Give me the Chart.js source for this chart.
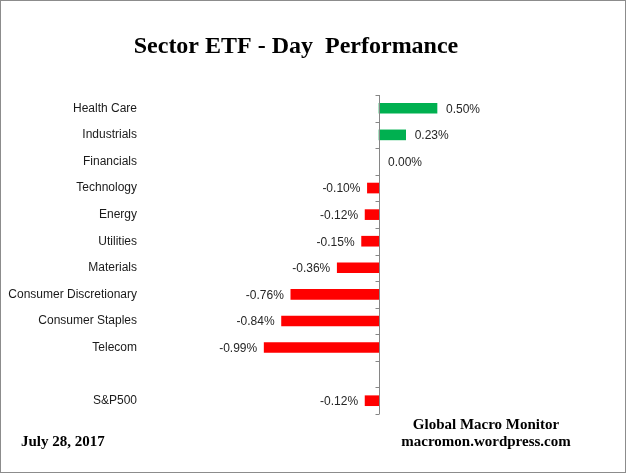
<!DOCTYPE html>
<html>
<head>
<meta charset="utf-8">
<script src="https://cdn.jsdelivr.net/npm/chart.js@4/dist/chart.umd.min.js"></script>
<style>
  html, body { margin: 0; padding: 0; background: #fff; }
  #wrap { width: 626px; height: 473px; position: relative; }
</style>
</head>
<body>
<div id="wrap"><canvas id="perf"></canvas></div>
<script>
// data (% day change)
const sectors = ['Health Care', 'Industrials', 'Financials', 'Technology', 'Energy', 'Utilities',
  'Materials', 'Consumer Discretionary', 'Consumer Staples', 'Telecom', '', 'S&P500']
const dayChange = [0.50, 0.23, 0.00, -0.10, -0.12, -0.15, -0.36, -0.76, -0.84, -0.99, null, -0.12]

const titleText = 'Sector ETF - Day  Performance'
const dateText = 'July 28, 2017'
const sourceLines = ['Global Macro Monitor', 'macromon.wordpress.com']

const upColor = '#00B050'
const downColor = '#FF0000'

// frame, title, footer text, zero axis with ticks, value labels
const decorations = {
  id: 'decorations',
  beforeDraw(chart) {
    const ctx = chart.ctx
    ctx.save()
    ctx.fillStyle = '#fff'
    ctx.fillRect(0, 0, chart.width, chart.height)
    ctx.restore()
  },
  afterDatasetsDraw(chart) {
    const ctx = chart.ctx
    const x = chart.scales.x
    const y = chart.scales.y
    const zero = Math.round(x.getPixelForValue(0)) + 0.5

    ctx.save()
    // axis line + tick marks
    ctx.strokeStyle = '#868686'
    ctx.lineWidth = 1
    ctx.beginPath()
    ctx.moveTo(zero, y.getPixelForValue(-0.5))
    ctx.lineTo(zero, y.getPixelForValue(sectors.length - 0.5))
    for (let i = 0; i <= sectors.length; i++) {
      const ty = Math.round(y.getPixelForValue(i - 0.5)) + 0.5
      ctx.moveTo(zero - 4, ty)
      ctx.lineTo(zero, ty)
    }
    ctx.stroke()

    // value labels
    ctx.font = '12px "Liberation Sans", Arial, sans-serif'
    ctx.fillStyle = '#262626'
    ctx.textBaseline = 'middle'
    const meta = chart.getDatasetMeta(0)
    dayChange.forEach((v, i) => {
      if (v === null) return
      const bar = meta.data[i]
      const label = v.toFixed(2) + '%'
      if (v >= 0) {
        ctx.textAlign = 'left'
        ctx.fillText(label, bar.x + 9, bar.y + 1)
      } else {
        ctx.textAlign = 'right'
        ctx.fillText(label, bar.x - 7, bar.y + 1)
      }
    })

    // title
    ctx.fillStyle = '#000'
    ctx.textAlign = 'center'
    ctx.font = 'bold 24px "Liberation Serif", "Times New Roman", serif'
    ctx.fillText(titleText, 296, 47)

    // footer
    ctx.font = 'bold 15px "Liberation Serif", "Times New Roman", serif'
    ctx.fillText(sourceLines[0], 486, 425)
    ctx.fillText(sourceLines[1], 486, 442)
    ctx.textAlign = 'left'
    ctx.fillText(dateText, 21, 442)

    // outer frame
    ctx.strokeStyle = '#8c8c8c'
    ctx.strokeRect(0.5, 0.5, chart.width - 1, chart.height - 1)
    ctx.restore()
  },
}

const perfChart = new Chart(document.getElementById('perf'), {
  type: 'bar',
  data: {
    labels: sectors,
    datasets: [
      {
        data: dayChange,
        backgroundColor: dayChange.map((v) => (v > 0 ? upColor : v < 0 ? downColor : 'rgba(0,0,0,0)')),
        barThickness: 10,
        borderWidth: 0,
      },
    ],
  },
  options: {
    indexAxis: 'y',
    responsive: true,
    maintainAspectRatio: false,
    animation: false,
    devicePixelRatio: 1,
    layout: { padding: { top: 95, bottom: 59, left: 0, right: 15 } },
    plugins: {
      legend: { display: false },
      title: { display: false },
      tooltip: { enabled: false },
    },
    scales: {
      x: {
        display: false,
        min: -2,
        max: 2,
      },
      y: {
        afterFit: (scale) => { scale.width = 147 },
        grid: { display: false, drawTicks: false },
        border: { display: false },
        ticks: {
          padding: 10,
          color: '#1a1a1a',
          font: { family: '"Liberation Sans", Arial, sans-serif', size: 12 },
        },
      },
    },
  },
  plugins: [decorations],
})
</script>
</body>
</html>
